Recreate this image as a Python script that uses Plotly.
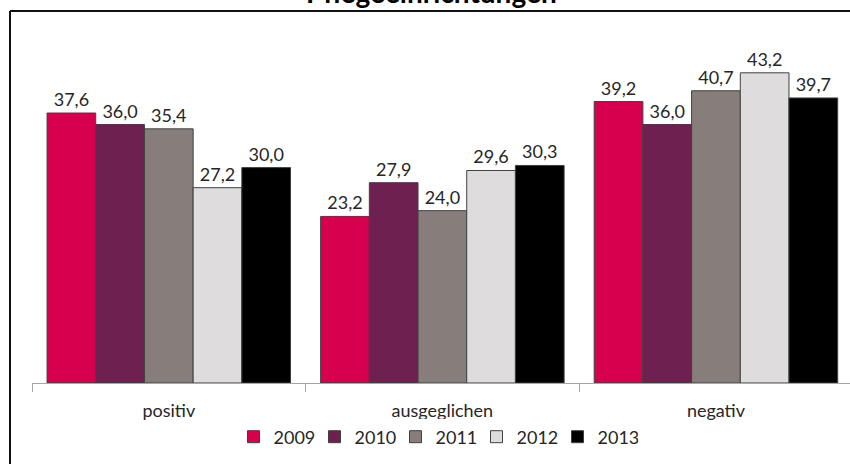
import plotly.graph_objects as go

categories = ["positiv", "ausgeglichen", "negativ"]
years = ["2009", "2010", "2011", "2012", "2013"]
values_2009 = [37.6, 23.2, 39.2]
values_2010 = [36.0, 27.9, 36.0]
values_2011 = [35.4, 24.0, 40.7]
values_2012 = [27.2, 29.6, 43.2]
values_2013 = [30.0, 30.3, 39.7]
series = [values_2009, values_2010, values_2011, values_2012, values_2013]
colors = ["#D6004F", "#6E2051", "#877D7A", "#DEDCDD", "#000000"]
title_text = "Pflegeeinrichtungen"

FONT = "Lato"

fig = go.Figure()
for yr, vals, col in zip(years, series, colors):
    fig.add_trace(go.Bar(
        x=categories, y=vals, name=yr,
        marker=dict(color=col, line=dict(color="#404040", width=1)),
        texttemplate="%{y:.1f}", textposition="outside", cliponaxis=False,
        textfont=dict(family=FONT, size=18, color="#262626"),
    ))

W, H = 850, 464
ml, mr, mt, mb = 32, 0, 24, 81
pw = W - ml - mr
ph = H - mt - mb

def px_x(x):
    return (x - ml) / pw

def px_y(y):
    return (H - mb - y) / ph

fig.update_layout(
    width=W, height=H,
    margin=dict(l=ml, r=mr, t=mt, b=mb, pad=0),
    paper_bgcolor="white", plot_bgcolor="white",
    separators=",.",
    barmode="group", bargap=0.11, bargroupgap=0,
    font=dict(family=FONT, size=18, color="#262626"),
    showlegend=True,
    legend=dict(orientation="h", x=px_x(436), xanchor="center",
                y=px_y(437), yanchor="middle",
                font=dict(family=FONT, size=18, color="#262626"),
                itemwidth=30, tracegroupgap=0,
                entrywidth=36, entrywidthmode="pixels"),
    xaxis=dict(range=[-0.5, 2.49], showline=True, linecolor="#A6A6A6", linewidth=1,
               ticks="outside", tickson="boundaries", ticklen=8, tickcolor="#A6A6A6",
               tickwidth=1, ticklabelstandoff=11, showgrid=False, zeroline=False,
               tickfont=dict(family=FONT, size=18, color="#262626")),
    yaxis=dict(range=[0, 50], visible=False, showgrid=False, zeroline=False),
    shapes=[
        dict(type="line", xref="paper", yref="paper", x0=px_x(10), x1=px_x(10),
             y0=px_y(470), y1=px_y(11), line=dict(color="#111111", width=2)),
        dict(type="line", xref="paper", yref="paper", x0=px_x(10), x1=px_x(860),
             y0=px_y(11), y1=px_y(11), line=dict(color="#111111", width=2)),
    ],
    annotations=[
        dict(text="<b>" + title_text + "</b>", xref="paper", yref="paper",
             x=px_x(431), y=px_y(-8), xanchor="center", yanchor="middle",
             showarrow=False, font=dict(family=FONT, size=28, color="#000000")),
    ],
)

fig.write_html("out.html", config={"displayModeBar": False},
               post_script="document.body.style.margin='0';document.body.style.overflow='hidden';")
